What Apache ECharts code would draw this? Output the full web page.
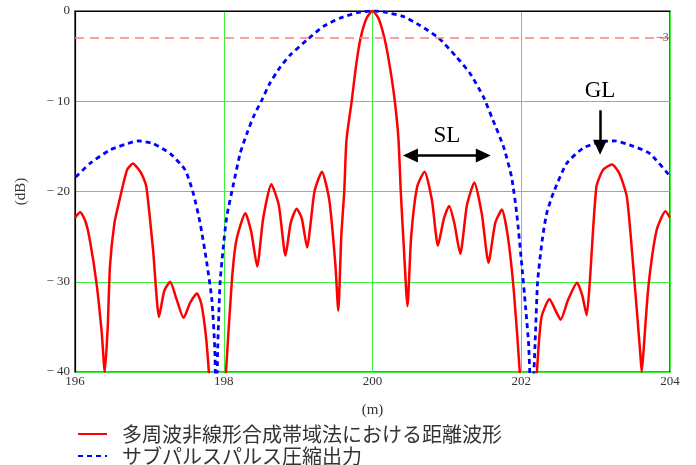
<!DOCTYPE html>
<html>
<head>
<meta charset="utf-8">
<script src="https://cdn.jsdelivr.net/npm/echarts@6/dist/echarts.min.js"></script>
<style>html,body{margin:0;padding:0;background:#fff}#c{width:696px;height:465px}</style>
</head>
<body>
<div id="c"></div>
<script>
// ---- data ----
const seriesNames = ['多周波非線形合成帯域法における距離波形', 'サブパルスパルス圧縮出力'];
const xTicks = [196, 198, 200, 202, 204];
const yTicks = [0, -10, -20, -30, -40];
const thresholdDb = -3;

// red: distance waveform (x in m, y in dB)
const redX = [196.00,196.07,196.14,196.20,196.29,196.36,196.40,196.44,196.47,196.53,196.60,196.70,196.78,196.86,196.91,196.96,197.05,197.13,197.20,197.28,197.36,197.46,197.55,197.64,197.70,197.76,197.80,197.92,198.03,198.11,198.17,198.29,198.37,198.45,198.53,198.64,198.74,198.83,198.90,198.98,199.05,199.12,199.22,199.32,199.42,199.50,199.54,199.58,199.62,199.65,199.72,199.78,199.84,199.92,200.00,200.08,200.16,200.23,200.30,200.35,200.38,200.42,200.47,200.52,200.60,200.70,200.80,200.88,200.96,201.03,201.10,201.18,201.27,201.37,201.47,201.56,201.65,201.74,201.82,201.90,201.98,202.08,202.21,202.27,202.38,202.45,202.53,202.63,202.75,202.82,202.88,202.92,203.01,203.10,203.22,203.32,203.42,203.51,203.60,203.62,203.65,203.71,203.82,203.94,204.00];
const redY = [-22.9,-22.3,-23.3,-25.4,-30.2,-35.7,-40,-35,-28.3,-23.5,-20.9,-17.6,-16.9,-17.6,-18.3,-19.5,-26.5,-33.9,-31.0,-30.0,-31.8,-34.0,-32.3,-31.3,-32.5,-36,-40,-55,-40,-29.8,-25.4,-22.4,-24.5,-28.3,-23,-19.2,-21.5,-27.1,-23.5,-21.9,-23,-26.2,-20,-17.8,-21,-28,-33.2,-25,-20,-14.3,-10,-6,-3,-0.8,0,-0.8,-3,-6,-10,-14.3,-20,-26,-32.7,-25,-19.5,-17.8,-21,-26.0,-23,-21.6,-23.5,-26.9,-21.5,-19.0,-22.5,-27.9,-23.5,-22.0,-25,-31,-40,-55,-40,-34,-31.9,-33,-34.2,-32,-30.1,-31.5,-33.7,-30.2,-19.5,-17.6,-17.0,-18,-20.6,-28.7,-37.9,-40,-37,-30.5,-24.3,-22.2,-22.9];

// blue: sub-pulse compression output
const blueX = [196.01,196.20,196.47,196.78,196.85,197.05,197.28,197.48,197.59,197.68,197.77,197.84,197.88,197.90,197.92,197.95,197.99,198.04,198.13,198.22,198.31,198.40,198.51,198.62,198.76,198.89,199.12,199.34,199.56,199.79,200.02,200.15,200.41,200.64,200.89,201.13,201.31,201.49,201.62,201.76,201.87,201.94,202.00,202.06,202.10,202.14,202.19,202.22,202.28,202.34,202.43,202.61,202.83,203.06,203.26,203.51,203.73,204.00];
const blueY = [-18.4,-16.9,-15.4,-14.5,-14.4,-14.7,-15.8,-17.6,-20.2,-23.4,-27.8,-32.0,-37.6,-45,-37,-30.2,-26.5,-22.8,-19.2,-15.8,-13.6,-11.7,-9.9,-8.0,-6.2,-4.9,-3.2,-1.7,-0.8,-0.2,0,-0.1,-0.6,-1.6,-3.0,-5.1,-6.9,-9.5,-12.1,-15.0,-18.4,-22.5,-27.5,-33,-37,-45,-36,-30,-25.5,-22.5,-20.2,-16.9,-15.2,-14.5,-14.4,-15.0,-15.8,-18.3];

// annotations (data coordinates)
const slArrow = [[200.51, -16], [201.49, -16]];
const glArrow = [[203.06, -11], [203.06, -15.1]];

const zip = (xs, ys) => xs.map((x, i) => [x, ys[i]]);
const serif = 'Liberation Serif, DejaVu Serif, serif';
const green = '#3ef03e';
const legendBase = {
  orient: 'horizontal', left: 72, itemWidth: 29, itemHeight: 12, itemGap: 0,
  textStyle: {fontFamily: 'Noto Sans CJK JP', fontSize: 20, color: '#333', padding: [0, 0, 0, 10]},
  itemStyle: {opacity: 0, color: 'rgba(0,0,0,0)', borderWidth: 0}
};

const chart = echarts.init(document.getElementById('c'), null, {renderer: 'canvas'});
chart.setOption({
  animation: false,
  backgroundColor: '#fff',
  grid: {left: 75, right: 26, top: 11, bottom: 93, show: true, borderColor: '#000', borderWidth: 1.2, backgroundColor: 'transparent'},
  legend: [
    Object.assign({}, legendBase, {top: 419, data: [seriesNames[0]]}),
    Object.assign({}, legendBase, {top: 441, data: [seriesNames[1]]})
  ],
  xAxis: {
    type: 'value', min: xTicks[0], max: xTicks[xTicks.length - 1], interval: 2,
    name: '(m)', nameLocation: 'middle', nameGap: 31,
    nameTextStyle: {fontFamily: serif, fontSize: 15, color: '#333'},
    axisLine: {lineStyle: {color: '#000', width: 1.2}},
    axisTick: {show: false},
    axisLabel: {fontFamily: serif, fontSize: 13, color: '#333', margin: 3},
    splitLine: {lineStyle: {color: green, width: 1}}
  },
  yAxis: {
    type: 'value', min: yTicks[yTicks.length - 1], max: yTicks[0], interval: 10,
    name: '(dB)', nameLocation: 'middle', nameGap: 46, nameRotate: 90,
    nameTextStyle: {fontFamily: serif, fontSize: 15, color: '#333'},
    axisLine: {lineStyle: {color: '#000', width: 1.2}},
    axisTick: {show: false},
    axisLabel: {fontFamily: serif, fontSize: 13, color: '#333', margin: 5,
      formatter: v => v === 0 ? '0' : '\u2212 ' + Math.abs(v)},
    splitLine: {lineStyle: {color: green, width: 1}}
  },
  series: [
    {
      name: seriesNames[0], type: 'line', data: zip(redX, redY), symbol: 'none',
      smooth: 0.2, clip: true,
      lineStyle: {color: '#ff0000', width: 2.5}, itemStyle: {color: '#ff0000'}, z: 3,
      markLine: {
        silent: true, symbol: 'none', animation: false,
        lineStyle: {color: '#ff7f7f', type: [9, 6], width: 1.5},
        label: {position: 'end', distance: -14, formatter: '\u22123', fontFamily: serif, fontSize: 12, color: '#555'},
        data: [{yAxis: thresholdDb}]
      }
    },
    {
      name: seriesNames[1], type: 'line', data: zip(blueX, blueY), symbol: 'none',
      smooth: 0.2, clip: true,
      lineStyle: {color: '#0000ff', width: 2.8, type: [5, 4]}, itemStyle: {color: '#0000ff'}, z: 2,
      markLine: {
        silent: true, animation: false, symbolSize: [14, 15],
        lineStyle: {color: '#000', type: 'solid', width: 2.5},
        label: {fontFamily: serif, fontSize: 23, color: '#000'},
        data: [
          [{coord: slArrow[0], symbol: 'triangle', label: {formatter: 'SL', position: 'middle', distance: 8}},
           {coord: slArrow[1], symbol: 'triangle'}],
          [{coord: glArrow[0], symbol: 'none', label: {formatter: 'GL', position: 'start', distance: 8}},
           {coord: glArrow[1], symbol: 'triangle'}]
        ]
      }
    }
  ]
});
</script>
</body>
</html>
